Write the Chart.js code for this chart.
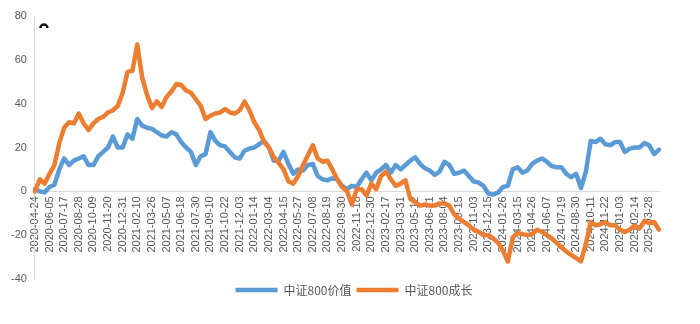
<!DOCTYPE html>
<html>
<head>
<meta charset="utf-8">
<script src="https://cdn.jsdelivr.net/npm/chart.js@4"></script>
<style>
  html, body { margin: 0; padding: 0; background: #fff; }
</style>
</head>
<body>
<canvas id="chart" width="700" height="324"></canvas>
<script>
// tick dates shown on the x axis (one every third sample)
const tickLabels = [
  '2020-04-24', '2020-06-05', '2020-07-17', '2020-08-28', '2020-10-09', '2020-11-20',
  '2020-12-31', '2021-02-10', '2021-03-26', '2021-05-07', '2021-06-18', '2021-07-30',
  '2021-09-10', '2021-10-22', '2021-12-03', '2022-01-14', '2022-03-04', '2022-04-15',
  '2022-05-27', '2022-07-08', '2022-08-19', '2022-09-30', '2022-11-18', '2022-12-30',
  '2023-02-17', '2023-03-31', '2023-05-12', '2023-06-21', '2023-08-04', '2023-09-15',
  '2023-11-03', '2023-12-15', '2024-01-26', '2024-03-15', '2024-04-26', '2024-06-07',
  '2024-07-19', '2024-08-30', '2024-10-11', '2024-11-22', '2025-01-03', '2025-02-14',
  '2025-03-28'
];

// 中证800价值, cumulative %
const valueSeries = [
  1, 0, -0.5, 2, 3, 10, 15, 12, 14, 15,
  16, 12, 12, 16, 18, 20, 25, 20, 20, 26,
  24, 33, 30, 29, 28.5, 27, 25.5, 25, 27, 26,
  22.5, 20, 18, 12, 16, 17, 27, 23, 21, 20.5,
  18, 15.5, 15, 18.5, 19.5, 20, 21.5, 23, 20, 14,
  14, 18, 12.5, 8, 10, 9.5, 12, 12.5, 7, 5.5,
  5, 6, 5.5, 2.5, 1, 2.5, 2, 5.5, 8.5, 5,
  8.5, 10, 12, 8.5, 12, 10, 12, 14, 15.5, 12.5,
  10.5, 9.5, 7.5, 9, 13.5, 12, 8, 8.5, 9.5, 7,
  4.5, 4, 2.5, -1, -1.5, -0.5, 2, 2.5, 10, 11,
  8.5, 9.5, 12.5, 14, 15, 13.5, 11.5, 11, 11, 8,
  6.5, 8, 1.5, 9, 23, 22.5, 24, 21.5, 21, 22.5,
  22.5, 18, 19.5, 20, 20, 22, 21, 17, 19
];

// 中证800成长, cumulative %
const growthSeries = [
  0, 5.5, 3.5, 8, 12, 22, 29, 31.5, 31, 35.5,
  31, 28, 31, 33, 34, 36, 37, 39, 45, 54.5,
  55, 67, 52, 44, 38, 41, 38.5, 43, 45.5, 49,
  48.5, 46, 45, 42, 39, 33, 34.5, 35.5, 36, 37.5,
  36, 35.5, 37, 41, 37, 31.5, 28, 22.5, 20, 15.5,
  13, 10, 4.5, 3.5, 7, 12, 16.5, 21, 15, 13.5,
  14, 10, 5.5, 2, 0, -6, 1, 1, -2, 3.5,
  1, 7, 9, 5.5, 2.5, 3.5, 5, -3.5, -5, -6.5,
  -6, -6.5, -6.5, -5.5, -5.5, -6.5, -10.5, -12.5, -14, -15.5,
  -17.5, -18.5, -20, -20, -21.5, -23.5, -27, -32, -21, -19,
  -19.5, -20, -19.5, -17.5, -18.5, -20, -21.5, -23.5, -25.5, -27.5,
  -29, -30.5, -32, -24, -14, -15.5, -15, -14, -15.5, -15.5,
  -17.5, -18.5, -17.5, -15.5, -17, -13.5, -14.5, -14, -17.5
];

const labels = valueSeries.map((v, i) => (i % 3 === 0 && tickLabels[i / 3]) ? tickLabels[i / 3] : '');

const axisGrey = '#d9d9d9';
const textGrey = '#595959';

// small dark arc in the upper-left corner of the plot
const cornerMark = {
  id: 'cornerMark',
  afterDraw(chart) {
    const { ctx, chartArea } = chart;
    ctx.save();
    ctx.strokeStyle = '#111';
    ctx.lineWidth = 2.5;
    ctx.beginPath();
    ctx.arc(chartArea.left + 9, chartArea.top + 12, 3.5, Math.PI, 2 * Math.PI);
    ctx.stroke();
    ctx.restore();
  }
};

// legend sits centred on the canvas rather than on the padded box
const legendShift = {
  id: 'legendShift',
  afterLayout(chart) {
    chart.legend.left += 23;
    chart.legend.right += 23;
  }
};

new Chart(document.getElementById('chart'), {
  type: 'line',
  data: {
    labels: labels,
    datasets: [{
      label: '中证800价值',
      data: valueSeries,
      borderColor: '#5B9BD5',
      backgroundColor: '#5B9BD5',
      borderWidth: 4.5,
      borderCapStyle: 'round',
      borderJoinStyle: 'round',
      pointRadius: 0,
      tension: 0,
      fill: false,
      order: 1
    }, {
      label: '中证800成长',
      data: growthSeries,
      borderColor: '#ED7D31',
      backgroundColor: '#ED7D31',
      borderWidth: 4.5,
      borderCapStyle: 'round',
      borderJoinStyle: 'round',
      pointRadius: 0,
      tension: 0,
      fill: false,
      order: 0
    }]
  },
  options: {
    responsive: false,
    animation: false,
    layout: { padding: { left: 3, right: 41, top: 16, bottom: 18 } },
    plugins: {
      tooltip: { enabled: false },
      legend: {
        position: 'bottom',
        labels: {
          usePointStyle: true,
          pointStyle: 'line',
          pointStyleWidth: 42,
          padding: 5,
          color: textGrey,
          font: { family: '"Noto Sans CJK SC", sans-serif', size: 12 },
          sort: (a, b) => a.datasetIndex - b.datasetIndex
        }
      }
    },
    scales: {
      x: {
        position: { y: 0 },
        grid: { display: false, drawTicks: false },
        border: { display: true, color: axisGrey, width: 1 },
        ticks: {
          autoSkip: false,
          maxRotation: 90,
          minRotation: 90,
          padding: 5,
          color: textGrey,
          font: { family: '"Liberation Sans", Arial, sans-serif', size: 11 }
        }
      },
      y: {
        min: -40,
        max: 80,
        grid: { display: false, drawTicks: false },
        border: { display: true, color: axisGrey, width: 1 },
        ticks: {
          stepSize: 20,
          padding: 8,
          color: textGrey,
          font: { family: '"Liberation Sans", Arial, sans-serif', size: 11 }
        }
      }
    }
  },
  plugins: [cornerMark, legendShift]
});
</script>
</body>
</html>
